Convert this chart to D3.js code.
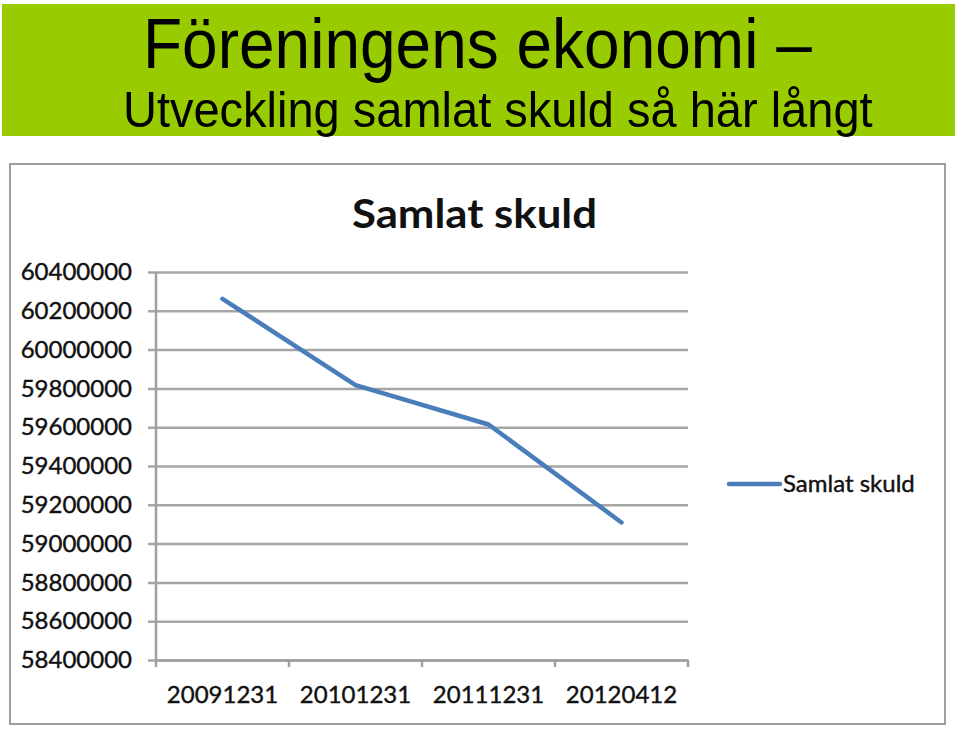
<!DOCTYPE html>
<html>
<head>
<meta charset="utf-8">
<script src="https://cdn.jsdelivr.net/npm/d3@7"></script>
<style>
  body { margin: 0; background: #fff; }
  svg { display: block; }
</style>
</head>
<body>
<svg id="chart"></svg>
<script>
// data
const dates = ['20091231', '20101231', '20111231', '20120412'];
const skuld = [60262000, 59817000, 59614000, 59109000];
const yTicks = [58400000, 58600000, 58800000, 59000000, 59200000, 59400000, 59600000, 59800000, 60000000, 60200000, 60400000];

const width = 960;
const height = 729;

const svg = d3.select('#chart')
    .attr('width', width)
    .attr('height', height);

// header band
svg.append('rect')
    .attr('x', 2).attr('y', 4)
    .attr('width', 953).attr('height', 132)
    .attr('fill', '#99cc00');

// slide text is a bit stretched vertically in the original
svg.append('text')
    .attr('transform', 'translate(143,68) scale(1,1.1)')
    .style('font-family', '"Liberation Sans", Arial, sans-serif')
    .style('font-size', '64px')
    .attr('fill', '#000')
    .text('Föreningens ekonomi –');

svg.append('text')
    .attr('transform', 'translate(123,127) scale(1,1.08)')
    .style('font-family', '"Liberation Sans", Arial, sans-serif')
    .style('font-size', '47px')
    .attr('fill', '#000')
    .text('Utveckling samlat skuld så här långt');

// chart frame
svg.append('rect')
    .attr('x', 10).attr('y', 164)
    .attr('width', 935).attr('height', 560)
    .attr('fill', '#fff')
    .attr('stroke', '#a0a0a0')
    .attr('stroke-width', 2);

svg.append('text')
    .attr('x', 352).attr('y', 228)
    .attr('textLength', 245)
    .attr('lengthAdjust', 'spacingAndGlyphs')
    .style('font-family', 'Lato, sans-serif')
    .style('font-weight', 'bold')
    .style('font-size', '40px')
    .attr('fill', '#111')
    .text('Samlat skuld');

const plot = { left: 156, right: 688, top: 272, bottom: 660 };

const x = d3.scaleBand()
    .domain(dates)
    .range([plot.left, plot.right]);

const y = d3.scaleLinear()
    .domain([58400000, 60400000])
    .range([plot.bottom, plot.top]);

const labelFont = 'Lato, sans-serif';

// grid lines + y ticks
const yAxis = d3.axisLeft(y)
    .tickValues(yTicks)
    .tickFormat(d3.format('d'))
    .tickSize(-(plot.right - plot.left))
    .tickPadding(24);

const gy = svg.append('g')
    .attr('transform', `translate(${plot.left},0)`)
    .call(yAxis);

gy.select('.domain').remove();
gy.selectAll('.tick line')
    .attr('x1', -8)
    .attr('stroke', '#a6a6a6')
    .attr('stroke-width', 2.5);
gy.selectAll('.tick text')
    .style('font-family', labelFont)
    .style('font-size', '24px')
    .attr('fill', '#111')
    .attr('stroke', '#111')
    .attr('stroke-width', 0.4);

// y axis line
svg.append('line')
    .attr('x1', plot.left).attr('x2', plot.left)
    .attr('y1', plot.top).attr('y2', plot.bottom)
    .attr('stroke', '#a0a0a0')
    .attr('stroke-width', 2.5);

// x axis
const xAxis = d3.axisBottom(x)
    .tickSize(0)
    .tickPadding(26);

const gx = svg.append('g')
    .attr('transform', `translate(0,${plot.bottom})`)
    .call(xAxis);

gx.select('.domain')
    .attr('stroke', '#a0a0a0')
    .attr('stroke-width', 2.5);
gx.selectAll('.tick text')
    .style('font-family', labelFont)
    .style('font-size', '24px')
    .attr('fill', '#111')
    .attr('stroke', '#111')
    .attr('stroke-width', 0.4);

// category separators on the x axis
const edges = dates.map(d => x(d)).concat([plot.right]);
gx.selectAll('.sep')
    .data(edges)
    .enter()
    .append('line')
    .attr('class', 'sep')
    .attr('x1', d => d).attr('x2', d => d)
    .attr('y1', 0).attr('y2', 7)
    .attr('stroke', '#a0a0a0')
    .attr('stroke-width', 2.5);

// the series
const line = d3.line()
    .x((d, i) => x(dates[i]) + x.bandwidth() / 2)
    .y(d => y(d));

svg.append('path')
    .datum(skuld)
    .attr('d', line)
    .attr('fill', 'none')
    .attr('stroke', '#4a7ebb')
    .attr('stroke-width', 4.5)
    .attr('stroke-linecap', 'round')
    .attr('stroke-linejoin', 'round');

// legend
svg.append('line')
    .attr('x1', 729).attr('x2', 780)
    .attr('y1', 484).attr('y2', 484)
    .attr('stroke', '#4a7ebb')
    .attr('stroke-width', 4.5)
    .attr('stroke-linecap', 'round');

svg.append('text')
    .attr('x', 783).attr('y', 492)
    .style('font-family', labelFont)
    .style('font-size', '24px')
    .attr('fill', '#111')
    .attr('stroke', '#111')
    .attr('stroke-width', 0.4)
    .text('Samlat skuld');
</script>
</body>
</html>
